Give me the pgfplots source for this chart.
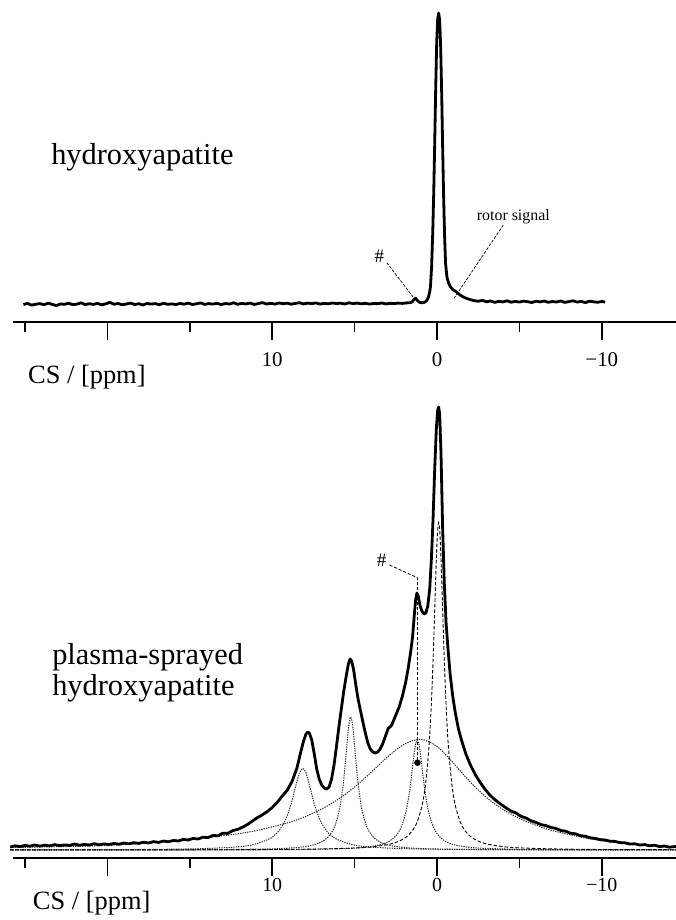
\documentclass[border=0pt]{standalone}
\usepackage{fontspec}
\setmainfont{Liberation Serif}
\usepackage{pgfplots}
\pgfplotsset{compat=1.18}

% 1H MAS NMR spectra: crystalline and plasma-sprayed hydroxyapatite
\pgfplotsset{
  nmr/.style={
    scale only axis, width=663.3bp,
    xmin=-14.5, xmax=25.75, x dir=reverse,
    ymin=0,
    axis x line=bottom, axis y line=none,
    x axis line style={-, line width=1.7bp},
    xtick={-10,0,10,20}, xticklabels={−10,0,10,{}},
    minor xtick={-5,5,15,25},
    tick align=outside,
    major tick length=18bp, minor tick length=9.5bp,
    every tick/.style={black, line width=1.5bp},
    clip=false,
  },
  spec/.style={black, line width=2.8bp, line join=round},
  fitA/.style={black, line width=0.9bp, dash pattern=on 3.5bp off 2bp, smooth},
  fitB/.style={black!85, line width=1bp, dash pattern=on 1.3bp off 1.1bp, smooth},
  lead/.style={black, line width=0.8bp, dash pattern=on 3bp off 2bp},
}

\begin{document}
\begin{tikzpicture}
\useasboundingbox (0bp,0bp) rectangle (676bp,-920bp);

% ---------------- upper spectrum ----------------
\begin{axis}[nmr, at={(12.7bp,-322bp)}, anchor=south west,
  height=310bp, ymax=310,
  xticklabel style={font=\fontsize{21}{21}\selectfont, inner sep=0pt, anchor=north, yshift=-12bp}]
\addplot[spec] coordinates {
(25.1,17.5)(24.85,18.6)(24.6,16.9)(24.35,17.8)(24.1,18.4)(23.85,17.2)(23.6,18.9)(23.35,17.6)
(23.1,16.4)(22.85,18.1)(22.6,17.7)(22.35,18.8)(22.1,17.3)(21.85,17.9)(21.6,19.2)(21.35,17.4)
(21.1,18.3)(20.85,17.6)(20.6,18.7)(20.35,17.1)(20.1,18.2)(19.85,19.6)(19.6,17.8)(19.35,18.5)
(19.1,17.2)(18.85,18.0)(18.6,18.9)(18.35,17.5)(18.1,18.3)(17.85,17.0)(17.6,18.6)(17.35,17.9)
(17.1,18.4)(16.85,17.3)(16.6,18.8)(16.35,17.7)(16.1,18.1)(15.85,17.4)(15.6,18.6)(15.35,17.8)
(15.1,18.9)(14.85,17.5)(14.6,18.2)(14.35,19.1)(14.1,17.6)(13.85,18.4)(13.6,17.9)(13.35,18.7)
(13.1,17.4)(12.85,18.5)(12.6,18.0)(12.35,19.2)(12.1,17.7)(11.85,18.6)(11.6,18.1)(11.35,18.9)
(11.1,17.6)(10.85,18.4)(10.6,19.4)(10.35,18.0)(10.1,18.7)(9.85,17.9)(9.6,19.0)(9.35,18.3)
(9.1,18.8)(8.85,17.8)(8.6,18.6)(8.35,19.3)(8.1,18.1)(7.85,18.9)(7.6,18.4)(7.35,19.1)
(7.1,17.9)(6.85,18.7)(6.6,18.2)(6.35,19.0)(6.1,18.5)(5.85,18.8)(5.6,18.0)(5.35,19.2)
(5.1,18.4)(4.85,18.9)(4.6,18.2)(4.35,18.7)(4.1,17.9)(3.85,18.6)(3.6,18.3)(3.35,19.0)
(3.1,18.1)(2.85,18.7)(2.6,18.4)(2.35,18.9)(2.1,18.6)(1.85,19.1)(1.65,19.3)(1.5,20.2)
(1.4,22.6)(1.3,23.8)(1.2,21.5)(1.05,19.6)(0.9,19.2)(0.75,19.8)(0.62,21.5)(0.52,25)
(0.45,30)(0.4,35)(0.33,55)(0.26,90)(0.2,130)(0.14,180)(0.08,235)(0.02,280)
(-0.04,303)(-0.1,309)(-0.16,302)(-0.22,275)(-0.28,230)(-0.34,175)(-0.4,125)(-0.46,85)
(-0.52,58)(-0.6,45)(-0.7,39)(-0.82,35)(-0.95,32.5)(-1.1,31)(-1.25,29)(-1.4,27)
(-1.6,25)(-1.8,23.5)(-2.0,22.5)(-2.25,21.3)(-2.5,20.8)(-2.75,21.6)(-3.0,20.2)(-3.25,21.0)
(-3.5,19.6)(-3.75,20.7)(-4.0,20.1)(-4.25,21.2)(-4.5,19.8)(-4.75,20.6)(-5.0,19.9)(-5.25,20.9)
(-5.5,20.3)(-5.75,19.5)(-6.0,20.8)(-6.25,20.1)(-6.5,21.0)(-6.75,19.7)(-7.0,20.5)(-7.25,20.0)
(-7.5,21.1)(-7.75,19.6)(-8.0,20.4)(-8.25,21.2)(-8.5,19.9)(-8.75,20.6)(-9.0,19.4)(-9.25,20.8)
(-9.5,20.2)(-9.75,19.7)(-10.0,20.5)(-10.2,19.9)
};
% annotations
\addplot[black, line width=0.7bp, dash pattern=on 3bp off 1.5bp] coordinates {(3.05,59.3)(1.44,24.7)};
\addplot[black, line width=0.7bp, dash pattern=on 3bp off 1.5bp] coordinates {(-4.02,97)(-0.99,22.7)};
\node[font=\fontsize{19}{19}\selectfont, inner sep=0pt] at (axis cs:3.5,65.3) {\#};
\node[font=\fontsize{16}{16}\selectfont, inner sep=0pt] at (axis cs:-4.63,105.3) {rotor signal};
\node[font=\fontsize{30.5}{31}\selectfont, inner sep=0pt, anchor=west] at (axis cs:23.42,165) {hydroxyapatite};
\node[font=\fontsize{26.5}{26.5}\selectfont, inner sep=0pt, anchor=west] at (axis cs:24.82,-55) {CS / [ppm]};
\end{axis}

% ---------------- lower spectrum with deconvolution ----------------
\begin{axis}[nmr, at={(12.7bp,-858bp)}, anchor=south west,
  height=455bp, ymax=455,
  xticklabel style={font=\fontsize{20}{20}\selectfont, inner sep=0pt, anchor=north, yshift=-2bp}]
% fitted components
\addplot[fitB] coordinates {
(25.9,8.2)(23.15,8.23)(17.15,8.64)(14.15,9.43)(12.15,11.1)(11.15,13.4)(10.15,19.3)(9.65,26.1)
(9.25,36.3)(8.95,48.85)(8.75,60.3)(8.55,73.4)(8.35,84.9)(8.15,89.7)(7.95,84.9)(7.75,73.4)
(7.55,60.3)(7.35,48.85)(7.05,36.3)(6.65,26.1)(6.15,19.3)(5.15,13.4)(4.15,11.1)(2.15,9.43)
(-0.85,8.64)(-6.85,8.23)(-14.5,8.1)
};
\addplot[fitB] coordinates {
(25.9,8.07)(15.24,8.27)(10.24,9.07)(8.24,10.9)(7.24,14.4)(6.64,20.5)(6.24,30.4)(5.94,46.9)
(5.74,67.5)(5.64,82.3)(5.54,100.1)(5.44,119.1)(5.34,134.7)(5.24,141)(5.14,134.7)(5.04,119.1)
(4.94,100.1)(4.84,82.3)(4.74,67.5)(4.54,46.9)(4.24,30.4)(3.84,20.5)(3.24,14.4)(2.24,10.9)
(0.24,9.07)(-4.76,8.27)(-14.5,8.07)
};
\addplot[fitB] coordinates {
(25.9,10.5)(20,12.5)(16.5,16.5)(13,22.2)(11,27.3)(9,35.5)(8,41.4)(7,49.0)(6,58.75)
(5,71.0)(4,85.7)(3,101.1)(2,113.7)(1,118.7)(0,111.5)(-1,94.7)(-2,76.2)(-3,60.5)
(-4,48.5)(-5,39.7)(-6,32.8)(-7,27.4)(-9,20)(-11,15.2)(-14.5,11)
};
\addplot[fitB] coordinates {
(25.9,8.05)(16.2,8.1)(10.2,8.3)(7.2,8.8)(5.2,9.7)(4.2,11)(3.4,13.4)(2.9,16.8)
(2.5,22.2)(2.2,30)(1.9,45.2)(1.7,63)(1.6,75.1)(1.5,88.9)(1.4,102.8)(1.3,113.8)
(1.2,118)(1.1,113.8)(1.0,102.8)(0.9,88.9)(0.8,75.1)(0.7,63)(0.5,45.2)(0.2,30)
(-0.1,22.2)(-0.5,16.8)(-1.0,13.4)(-1.8,11)(-2.8,9.7)(-4.8,8.8)(-7.8,8.3)(-14.5,8.1)
};
\addplot[fitA] coordinates {
(25.9,8.1)(15,8.2)(9.9,8.5)(6.9,9.1)(4.9,10.1)(3.9,11.2)(2.9,13.7)(2.4,16.2)
(1.9,20.6)(1.5,27.3)(1.2,36.3)(0.9,53.2)(0.7,73.5)(0.5,108.8)(0.4,135.8)(0.3,171.8)
(0.2,217.6)(0.1,270)(0.05,295.1)(0.0,316.2)(-0.05,330.5)(-0.1,335.5)(-0.15,330.5)(-0.2,316.2)
(-0.25,295.1)(-0.3,270)(-0.4,217.6)(-0.5,171.8)(-0.6,135.8)(-0.7,108.8)(-0.9,73.5)(-1.1,53.2)
(-1.4,36.3)(-1.7,27.3)(-2.1,20.6)(-2.6,16.2)(-3.1,13.7)(-4.1,11.2)(-5.1,10.1)(-7.1,9.1)
(-10.1,8.5)(-14.5,8.3)
};
% measured spectrum
\addplot[spec] coordinates {
(25.9,11.0)(25.6,12.2)(25.3,11.4)(25.0,12.6)(24.7,11.8)(24.4,13.0)(24.1,11.9)(23.8,12.8)
(23.5,12.1)(23.2,13.4)(22.9,12.3)(22.6,13.1)(22.3,12.6)(22.0,14.0)(21.7,12.8)(21.4,13.6)
(21.1,13.0)(20.8,14.3)(20.5,13.2)(20.2,14.1)(19.9,13.5)(19.6,14.6)(19.3,13.8)(19.0,15.0)
(18.7,14.2)(18.4,15.3)(18.1,14.6)(17.8,15.8)(17.5,15.0)(17.2,16.4)(16.9,15.6)(16.6,17.0)
(16.3,16.2)(16.0,17.6)(15.7,17.0)(15.4,18.6)(15.1,18.0)(14.8,19.6)(14.5,19.0)(14.2,20.8)
(13.9,20.4)(13.6,22.6)(13.3,22.2)(13.0,24.8)(12.7,24.6)(12.4,27.4)(12.1,28.6)(11.8,30.8)
(11.5,33.6)(11.2,37.0)(10.9,40.4)(10.6,43.2)(10.3,46.5)(10.0,50.5)(9.7,55.6)(9.4,61.8)
(9.1,67.5)(8.8,76.5)(8.5,90)(8.3,104)(8.1,117)(7.95,124)(7.85,126)(7.75,125)
(7.6,118)(7.45,104)(7.3,89)(7.15,79)(7.0,73)(6.85,70)(6.7,69)(6.55,71)
(6.4,79)(6.25,93)(6.1,112)(5.95,132)(5.8,150)(5.65,168)(5.5,183)(5.38,194)
(5.28,199)(5.18,197)(5.06,188)(4.92,172)(4.78,158)(4.64,147)(4.5,136)(4.35,125)
(4.2,115)(4.05,109)(3.9,106)(3.75,105)(3.6,106)(3.45,109)(3.3,114)(3.15,121)
(3.02,127)(2.95,130)(2.85,131)(2.75,133)(2.6,139)(2.45,145)(2.3,151)(2.1,162)
(1.9,176)(1.75,190)(1.6,206)(1.48,222)(1.38,243)(1.3,258)(1.22,265)(1.14,262)
(1.04,253)(0.92,247)(0.8,244)(0.68,245)(0.56,252)(0.44,270)(0.34,300)(0.24,340)
(0.14,390)(0.04,430)(-0.04,448)(-0.1,451)(-0.16,444)(-0.24,405)(-0.34,330)(-0.44,275)
(-0.55,235)(-0.66,210)(-0.8,183)(-0.95,162)(-1.1,146)(-1.3,129)(-1.5,117)(-1.75,104)
(-2.0,94)(-2.3,84)(-2.6,76)(-2.9,69)(-3.2,63)(-3.5,58.5)(-3.85,54)(-4.2,50)
(-4.5,46.8)(-4.8,45)(-5.1,41.6)(-5.4,40)(-5.7,37.2)(-6.0,35.6)(-6.3,33.4)(-6.6,32.4)
(-6.9,30.6)(-7.2,29.6)(-7.5,27.6)(-7.8,26.8)(-8.1,24.8)(-8.4,24.2)(-8.7,22.4)(-9.0,21.8)
(-9.3,20.2)(-9.6,19.6)(-9.9,18.4)(-10.2,18.0)(-10.5,16.8)(-10.8,16.6)(-11.1,15.4)(-11.4,15.2)
(-11.7,14.0)(-12.0,14.2)(-12.3,13.0)(-12.6,13.4)(-12.9,12.2)(-13.2,12.8)(-13.5,11.4)(-13.8,12.0)
(-14.1,10.8)(-14.5,11.6)
};
% marker of the weak line
\addplot[lead] coordinates {(2.88,293)(1.19,280.3)(1.19,95.3)};
\addplot[only marks, mark=*, mark size=3bp, black] coordinates {(1.19,95.3)};
\node[font=\fontsize{19}{19}\selectfont, inner sep=0pt] at (axis cs:3.36,298) {\#};
\node[font=\fontsize{30.5}{31}\selectfont, inner sep=0pt, anchor=west, align=left] at (axis cs:23.36,185.5) {plasma-sprayed\\hydroxyapatite};
\node[font=\fontsize{26.5}{26.5}\selectfont, inner sep=0pt, anchor=west] at (axis cs:24.53,-45) {CS / [ppm]};
\end{axis}
\end{tikzpicture}
\end{document}
